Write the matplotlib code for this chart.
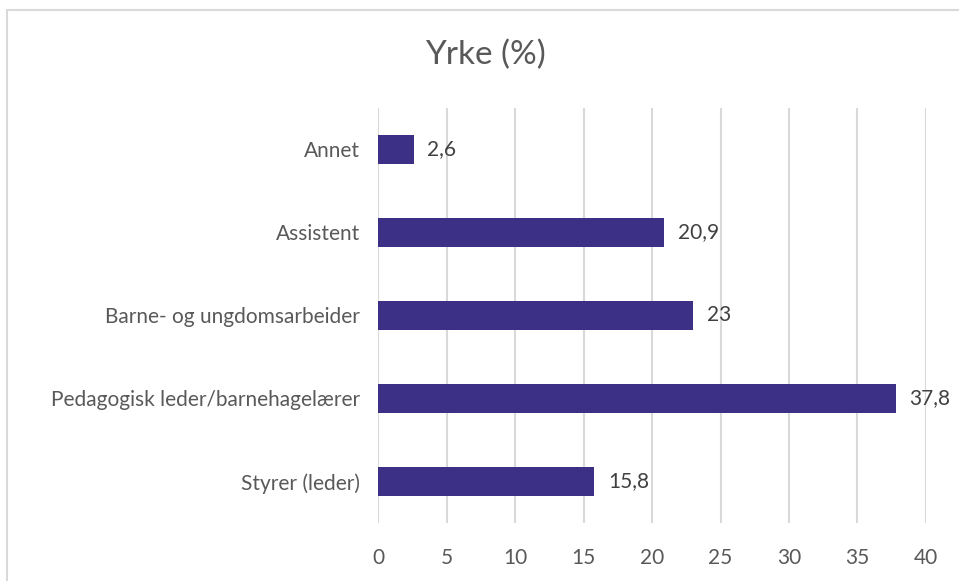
import matplotlib
matplotlib.use("Agg")
import matplotlib.pyplot as plt
from matplotlib.patches import Rectangle

categories = ["Annet", "Assistent", "Barne- og ungdomsarbeider",
              "Pedagogisk leder/barnehagelærer", "Styrer (leder)"]
values = [2.6, 20.9, 23, 37.8, 15.8]
value_labels = ["2,6", "20,9", "23", "37,8", "15,8"]
xticks = [0, 5, 10, 15, 20, 25, 30, 35, 40]

plt.rcParams['font.family'] = ['Lato', 'DejaVu Sans']

fig = plt.figure(figsize=(9.59, 5.81), dpi=100)
ax = fig.add_axes([378/959, 1 - 523/581, (926 - 378)/959, (523 - 108)/581])

ypos = list(range(len(categories)))[::-1]
bar_color = "#3C2F86"
ax.barh(ypos, values, height=0.36, color=bar_color, zorder=3)
for y, v, lab in zip(ypos, values, value_labels):
    ax.text(v + 1.0, y, lab, va="center", ha="left", fontsize=15, color="#404040")

ax.set_xlim(0, 40)
ax.set_ylim(-0.5, len(categories) - 0.5)
ax.set_yticks(ypos)
ax.set_yticklabels(categories, fontsize=15, color="#595959")
ax.set_xticks(xticks)
ax.set_xticklabels([str(t) for t in xticks], fontsize=15, color="#595959")
ax.tick_params(axis="both", length=0)
ax.tick_params(axis="y", pad=13)
ax.tick_params(axis="x", pad=18)
ax.grid(axis="x", color="#D9D9D9", linewidth=1.5, zorder=0)
for s in ax.spines.values():
    s.set_visible(False)

fig.text(485/959, 1 - 55/581, "Yrke (%)", ha="center", va="center",
         fontsize=24, color="#595959")

fig.patches.append(Rectangle((6.5/959, -0.1), 1.1, 1 - 9.5/581 + 0.1,
                             transform=fig.transFigure, fill=False,
                             edgecolor="#D9D9D9", linewidth=1.5))

fig.savefig("out.png", dpi=100)
